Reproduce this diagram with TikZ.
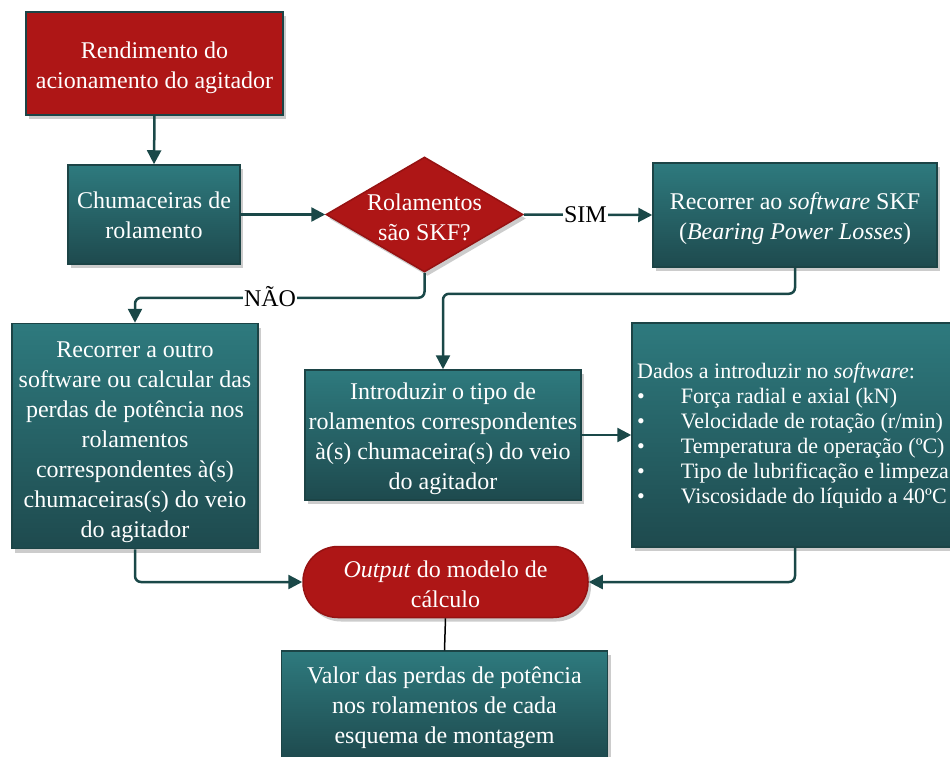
\documentclass[tikz,border=0pt]{standalone}
\usepackage{fontspec}
\setmainfont{Liberation Serif}
\usetikzlibrary{shapes.geometric,shadows,arrows.meta}
\definecolor{redfill}{RGB}{174,22,22}
\definecolor{redline}{RGB}{150,18,18}
\definecolor{tealtop}{RGB}{46,122,126}
\definecolor{tealbot}{RGB}{30,74,78}
\definecolor{tealline}{RGB}{28,68,70}
\definecolor{conncol}{RGB}{26,72,72}
\tikzset{
 base/.style={draw=tealline, line width=1.5pt, inner sep=0pt,
   drop shadow={opacity=0.4, shadow xshift=3pt, shadow yshift=-4pt}},
 redbox/.style={base, fill=redfill},
 tealbox/.style={base, top color=tealtop, bottom color=tealbot},
 conn/.style={draw=conncol, line width=2.5pt, -{Triangle[length=14pt,width=14pt]}, rounded corners=6pt},
 lbl/.style={fill=white, inner sep=1pt, text=black, font=\fontsize{24}{28}\selectfont},
 txt/.style={text=white, align=center, inner sep=0pt, font=\fontsize{24}{30}\selectfont}
}
\begin{document}
\begin{tikzpicture}[x=1pt,y=-1pt]
\useasboundingbox (0,0) rectangle (950,756);

\node[redbox, minimum width=257pt, minimum height=103pt] (b1) at (154.5,63.5) {};
\node[txt] (b1t) at ([yshift=-4pt]b1.center) {Rendimento do\\acionamento do agitador};
\node[tealbox, minimum width=172pt, minimum height=99pt] (b2) at (154,214.5) {};
\node[txt] (b2t) at ([yshift=-1pt]b2.center) {Chumaceiras de\\rolamento};
\node[base, diamond, draw=redline, fill=redfill, minimum width=197pt, minimum height=115pt] (d) at (424.5,214.5) {};
\node[txt] (dt) at (424.5,217) {Rolamentos\\são SKF?};
\node[tealbox, minimum width=284pt, minimum height=104pt] (b3) at (795,215) {};
\node[txt] (b3t) at ([yshift=-4pt]b3.center) {Recorrer ao \textit{software} SKF\\(\textit{Bearing Power Losses})};
\node[tealbox, minimum width=276pt, minimum height=130pt] (b4) at (443,435) {};
\node[txt] (b4t) at ([yshift=-4pt]b4.center) {Introduzir o tipo de\\rolamentos correspondentes\\à(s) chumaceira(s) do veio\\do agitador};
\node[tealbox, minimum width=246pt, minimum height=225pt] (b5) at (135,436) {};
\node[txt] (b5t) at ([yshift=-6pt]b5.center) {Recorrer a outro\\software ou calcular das\\perdas de potência nos\\rolamentos\\correspondentes à(s)\\chumaceiras(s) do veio\\do agitador};
\node[tealbox, minimum width=343pt, minimum height=224pt] (b6) at (803.5,435) {};
\node[anchor=west, text=white, inner sep=0pt, font=\fontsize{22}{25}\selectfont] (b6t) at (637,436)
  {\begin{tabular}{@{}l@{\hspace{36pt}}l@{}}
   \multicolumn{2}{@{}l@{}}{Dados a introduzir no \textit{software}:}\\
   \textbullet & Força radial e axial (kN)\\
   \textbullet & Velocidade de rotação (r/min)\\
   \textbullet & Temperatura de operação (ºC)\\
   \textbullet & Tipo de lubrificação e limpeza\\
   \textbullet & Viscosidade do líquido a 40ºC
  \end{tabular}};
\node[base, draw=redline, fill=redfill, rounded corners=35pt, minimum width=285pt, minimum height=71pt] (out) at (445.5,582) {};
\node[txt] (outt) at ([yshift=-2pt]out.center) {\textit{Output} do modelo de\\cálculo};
\node[tealbox, minimum width=326pt, minimum height=108pt] (b7) at (444.5,705) {};
\node[txt] (b7t) at ([yshift=-3pt]b7.center) {Valor das perdas de potência\\nos rolamentos de cada\\esquema de montagem};

\coordinate (b6s) at ([xshift=-8.5pt]b6.south);
\draw[conn] (b1.south) -- (b2.north);
\draw[conn] (b2.east) -- (d.west);
\draw[conn] (d.east) -- (b3.west) node[lbl, pos=0.48] (sim) {SIM};
\draw[conn] (b3.south) -- ++(0,26) -| (b4.north);
\draw[conn] (d.south) -- ++(0,25) -| (b5.north);
\node[lbl] (nao) at (270,297) {NÃO};
\draw[conn] (b4.east) -- (b6.west);
\draw[conn] (b5.south) |- (out.west);
\draw[conn] (b6s) |- (out.east);
\draw[black, line width=1.5pt] (out.south) -- (b7.north);
\end{tikzpicture}
\end{document}
